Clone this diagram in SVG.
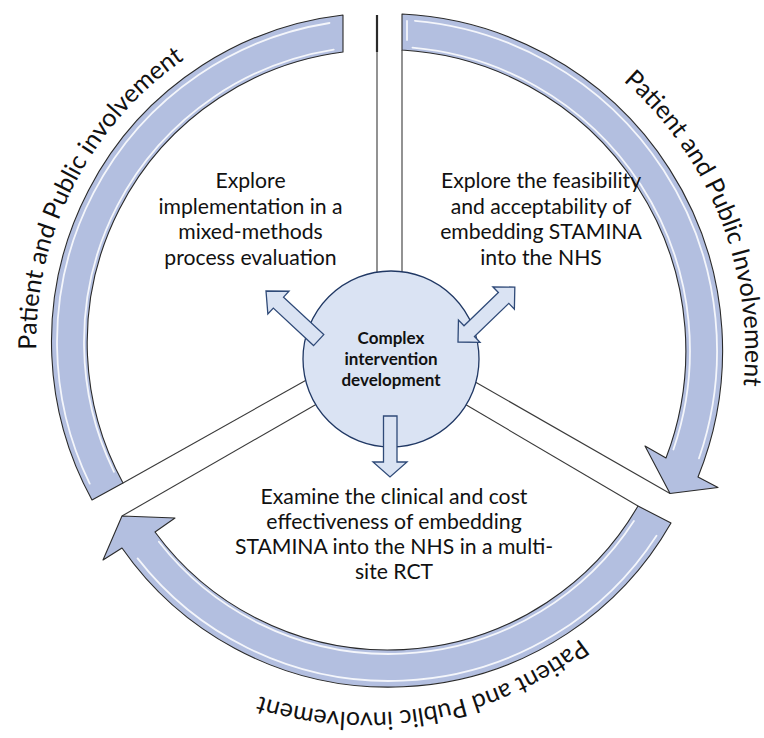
<svg xmlns="http://www.w3.org/2000/svg" width="764" height="738" viewBox="0 0 764 738">
<defs>
<style>
.spoke{stroke:#3a3a3a;stroke-width:1.1;fill:none}
.band{fill:#B3BFE0;stroke:#2a2a2a;stroke-width:1.1;stroke-linejoin:round}
.hl{fill:none;stroke:#ffffff;stroke-width:1.8;stroke-opacity:0.85;stroke-linecap:round}
.blk{fill:#DAE3F3;stroke:#2F4A78;stroke-width:1.3;stroke-linejoin:miter}
.t{font-family:Lato,"Liberation Sans",sans-serif;font-size:21.2px;fill:#111;text-anchor:middle}
.c{font-family:Lato,"Liberation Sans",sans-serif;font-size:17px;font-weight:bold;fill:#111;text-anchor:middle}
.ppi{font-family:Lato,"Liberation Sans",sans-serif;font-size:25px;fill:#111;text-anchor:middle}
</style>
<path id="pL" d="M197.7,633.7 A344,344 0 0 1 508.9,23.1"/>
<path id="pR" d="M284,6.3 A359,359 0 0 1 546.2,671.8"/>
<path id="pB" d="M713.6,330.3 A350,350 0 0 1 27.2,453.8"/>
</defs>
<rect width="764" height="738" fill="#ffffff"/>
<g id="connectors">
<line class="spoke" x1="377" y1="52" x2="377" y2="300"/>
<line x1="377" y1="15" x2="377" y2="52" stroke="#2a2a2a" stroke-width="2.2"/>
<line class="spoke" x1="402" y1="50" x2="402" y2="300"/>
<line class="spoke" x1="670" y1="493.5" x2="470" y2="379"/>
<line class="spoke" x1="638" y1="506" x2="460" y2="401.3"/>
<line class="spoke" x1="123" y1="483" x2="310" y2="378"/>
<line class="spoke" x1="122" y1="516" x2="322" y2="401"/>
</g>
<g id="arc-top-right">
<path class="band" d="M402,14 A337,337 0 0 1 698,477 L718,487.5 L670,493.5 L645,446 L666,458 A301,301 0 0 0 402,50 Z"/>
<path class="hl" d="M414.9,20.8 A331,331 0 0 1 699,458.3"/>
<path class="hl" d="M412.5,47.7 A304,304 0 0 1 673.4,449.5"/>
<path class="hl" d="M407,21 L407,40"/>
</g>
<g id="arc-bottom">
<path class="band" d="M671,523 A325,325 0 0 1 122,548 L103,560 L122,516 L175,518 L155,532 A289,289 0 0 0 638,506 Z"/>
<path class="hl" d="M656.5,535.7 A319,319 0 0 1 137.6,558.4"/>
<path class="hl" d="M633.9,521 A292,292 0 0 1 158.9,541.8"/>
</g>
<g id="arc-left">
<path class="band" d="M92,500 A329,329 0 0 1 343,15 L343,52 A293,293 0 0 0 123,483 Z"/>
<path class="hl" d="M89.7,483.6 A323,323 0 0 1 329.5,23"/>
<path class="hl" d="M114,471.8 A296,296 0 0 1 333.7,49.6"/>
</g>
<g id="center-node">
<circle cx="391" cy="359" r="88" fill="#DAE3F3" stroke="#203864" stroke-width="1.3"/>
<text class="c" x="391" y="344">Complex</text>
<text class="c" x="391" y="365">intervention</text>
<text class="c" x="391" y="386">development</text>
</g>
<g id="arrow-up-left">
<path class="blk" transform="translate(266,291) rotate(223)" d="M0,0 L-17,-15.5 L-17,-7.5 L-72,-7.5 L-72,7.5 L-17,7.5 L-17,15.5 Z"/>
</g>
<g id="arrow-up-right">
<path class="blk" transform="translate(458,342) rotate(-44)" d="M0,0 L15.6,-15.5 L15.6,-7.5 L63.4,-7.5 L63.4,-15.5 L79,0 L63.4,15.5 L63.4,7.5 L15.6,7.5 L15.6,15.5 Z"/>
</g>
<g id="arrow-down">
<path class="blk" d="M383.5,416 L397,416 L397,462 L407,462 L390,477 L373,462 L383.5,462 Z"/>
</g>
<g id="text-process">
<text class="t" x="250.5" y="188">Explore</text>
<text class="t" x="250.5" y="213.5">implementation in a</text>
<text class="t" x="250.5" y="239">mixed-methods</text>
<text class="t" x="250.5" y="264.5">process evaluation</text>
</g>
<g id="text-feasibility">
<text class="t" x="541" y="188">Explore the feasibility</text>
<text class="t" x="541" y="213.5">and acceptability of</text>
<text class="t" x="541" y="239">embedding STAMINA</text>
<text class="t" x="541" y="264.5">into the NHS</text>
</g>
<g id="text-rct">
<text class="t" x="394" y="504">Examine the clinical and cost</text>
<text class="t" x="394" y="529">effectiveness of embedding</text>
<text class="t" x="394" y="554">STAMINA into the NHS in a multi-</text>
<text class="t" x="394" y="578.5">site RCT</text>
</g>
<g id="ppi-labels">
<text class="ppi"><textPath href="#pL" startOffset="50%">Patient and Public involvement</textPath></text>
<text class="ppi"><textPath href="#pR" startOffset="50%">Patient and Public Involvement</textPath></text>
<text class="ppi"><textPath href="#pB" startOffset="50%">Patient and Public involvement</textPath></text>
</g>
</svg>
